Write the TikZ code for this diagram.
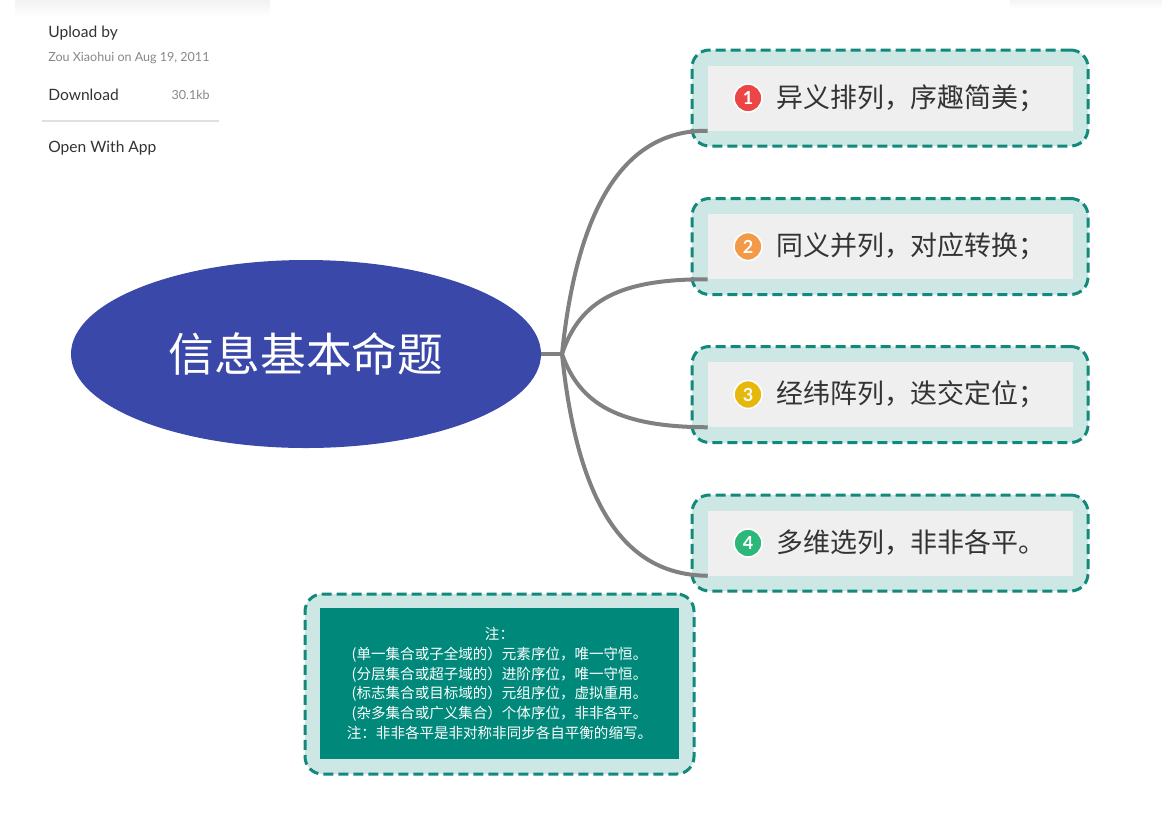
\documentclass[tikz,border=0pt]{standalone}
\usepackage{fontspec}
\setmainfont{Lato}
\newfontfamily\cjk{Noto Sans CJK SC}
\usetikzlibrary{shapes.geometric}
\definecolor{ellblue}{HTML}{3A48A9}
\definecolor{tealline}{HTML}{12897A}
\definecolor{tealfill}{HTML}{CDE7E5}
\definecolor{innergrey}{HTML}{EFEFEF}
\definecolor{notefill}{HTML}{00897B}
\definecolor{connector}{HTML}{808080}
\definecolor{darktext}{HTML}{333333}
\definecolor{lighttext}{HTML}{888888}
\definecolor{ired}{HTML}{EB4545}
\definecolor{iorange}{HTML}{F29A48}
\definecolor{iyellow}{HTML}{E6B80C}
\definecolor{igreen}{HTML}{2DB87B}
\begin{document}
\begin{tikzpicture}[x=0.75pt,y=-0.75pt,
  outerbox/.style={draw=tealline, fill=tealfill, dashed, dash pattern=on 7.5pt off 3.75pt,
    line width=2.25pt, rounded corners=13pt, minimum width=297pt, minimum height=72pt, inner sep=0pt},
  innerbox/.style={fill=innergrey, minimum width=273.75pt, minimum height=48.75pt, inner sep=0pt},
  icon/.style={circle, draw=white, line width=1.2pt, minimum size=21pt, inner sep=0pt,
    text=white, font=\bfseries\fontsize{13.5}{14}\selectfont},
  itemtext/.style={anchor=west, inner sep=0pt, text=darktext, font=\cjk\fontsize{20.2}{23}\selectfont},
  link/.style={draw=connector, line width=3pt},
  sidetext/.style={anchor=west, inner sep=0pt, text=darktext, font=\fontsize{11.7}{13}\selectfont},
  smalltext/.style={anchor=west, inner sep=0pt, text=lighttext, font=\fontsize{9.4}{11}\selectfont}
]
\useasboundingbox (0,0) rectangle (1162,836);
\fill[white] (0,0) rectangle (1162,836);
% faint card shadows at the top
\shade[top color=black!5, bottom color=white] (15,0) rectangle (270,16);
\shade[top color=black!4, bottom color=white] (1010,0) rectangle (1162,9);

% side info panel
\node[sidetext] (upl) at (48,33) {Upload by};
\node[smalltext] (zou) at (48,58) {Zou Xiaohui on Aug 19, 2011};
\node[sidetext] (dl) at (48,95) {Download};
\node[smalltext, anchor=east] (kb) at (210,95) {30.1kb};
\draw[black!12, line width=0.8pt] (42,121) -- (219,121);
\node[sidetext] (open) at (48,148) {Open With App};

% central ellipse
\node[ellipse, fill=ellblue, minimum width=352.5pt, minimum height=141pt, inner sep=0pt,
  text=white, font=\cjk\fontsize{34.3}{36}\selectfont] (root) at (306,354) {信息基本命题};

% boxes
\foreach \i/\y in {1/98, 2/246.5, 3/394.5, 4/543}{
  \node[outerbox] (o\i) at (890,\y) {};
  \node[innerbox] (b\i) at (890.5,\y) {};
}
\node[icon, fill=ired] (c1) at (748,98) {1};
\node[itemtext] (t1) at (776,98) {异义排列，序趣简美；};
\node[icon, fill=iorange] (c2) at (748,246.5) {2};
\node[itemtext] (t2) at (776,246.5) {同义并列，对应转换；};
\node[icon, fill=iyellow] (c3) at (748,394.5) {3};
\node[itemtext] (t3) at (776,394.5) {经纬阵列，迭交定位；};
\node[icon, fill=igreen] (c4) at (748,543) {4};
\node[itemtext] (t4) at (776,543) {多维选列，非非各平。};

% connectors
\coordinate (hub) at (562,354);
\draw[link] (root.east) -- (hub);
\draw[link] (hub) .. controls (580,180) and (640,130) .. (b1.south west);
\draw[link] (hub) .. controls (580,300) and (620,279) .. (b2.south west);
\draw[link] (hub) .. controls (580,405) and (620,427) .. (b3.south west);
\draw[link] (hub) .. controls (580,530) and (640,575) .. (b4.south west);

% note box
\node[outerbox, minimum width=291.75pt, minimum height=135pt] (nout) at (499.5,684) {};
\node[fill=notefill, minimum width=269.25pt, minimum height=113.25pt, inner sep=0pt,
  text=white, align=center, font=\cjk\fontsize{10.9}{14.85}\selectfont] (note) at (499.5,683.5)
  {注：\\ (单一集合或子全域的）元素序位，唯一守恒。\\(分层集合或超子域的）进阶序位，唯一守恒。\\(标志集合或目标域的）元组序位，虚拟重用。\\(杂多集合或广义集合）个体序位，非非各平。\\注：非非各平是非对称非同步各自平衡的缩写。};
\end{tikzpicture}
\end{document}
